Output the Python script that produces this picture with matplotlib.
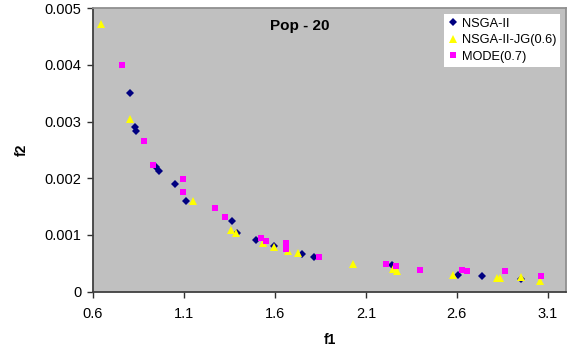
import matplotlib
matplotlib.use("Agg")
import matplotlib.pyplot as plt
from matplotlib.ticker import FixedLocator

plt.rcParams['font.family'] = ['Liberation Sans', 'DejaVu Sans']

# Data
nsga_x = [0.805, 0.829, 0.838, 0.944, 0.964, 1.052, 1.114, 1.363, 1.394, 1.498,
          1.595, 1.749, 1.815, 2.243, 2.605, 2.740, 2.955]
nsga_y = [0.00350, 0.00290, 0.00283, 0.00220, 0.00212, 0.00189, 0.00160, 0.00124,
          0.00103, 0.00091, 0.00080, 0.00066, 0.00061, 0.00047, 0.00030, 0.00028,
          0.00022]

jg_x = [0.644, 0.805, 1.149, 1.359, 1.387, 1.535, 1.593, 1.672, 1.729, 2.031,
        2.248, 2.270, 2.581, 2.821, 2.839, 2.955, 3.059]
jg_y = [0.00472, 0.00304, 0.00160, 0.00108, 0.00104, 0.00085, 0.00079, 0.00071,
        0.00069, 0.00048, 0.00040, 0.00037, 0.00030, 0.00025, 0.00025, 0.00026,
        0.00019]

mode_x = [0.759, 0.880, 0.928, 1.096, 1.096, 1.270, 1.326, 1.526, 1.551, 1.661,
          1.661, 1.844, 2.210, 2.267, 2.395, 2.627, 2.658, 2.865, 3.062]
mode_y = [0.00400, 0.00265, 0.00224, 0.00199, 0.00175, 0.00148, 0.00132, 0.00094,
          0.00089, 0.00085, 0.00076, 0.00062, 0.00049, 0.00045, 0.00038, 0.00038,
          0.00036, 0.00036, 0.00028]

labels = ["NSGA-II", "NSGA-II-JG(0.6)", "MODE(0.7)"]
x_ticks = [0.6, 1.1, 1.6, 2.1, 2.6, 3.1]
y_ticks = [0, 0.001, 0.002, 0.003, 0.004, 0.005]

fig = plt.figure(figsize=(5.68, 3.52), dpi=100)
ax = fig.add_axes([0.1637, 0.1713, 0.8328, 0.8057])
ax.set_facecolor('#C0C0C0')

ax.plot(nsga_x, nsga_y, linestyle='none', marker='D', markersize=4.2,
        color='#000080', markeredgewidth=0, label=labels[0], zorder=3)
ax.plot(jg_x, jg_y, linestyle='none', marker='^', markersize=6.0,
        color='#FFFF00', markeredgewidth=0, label=labels[1], zorder=4)
ax.plot(mode_x, mode_y, linestyle='none', marker='s', markersize=4.6,
        color='#FF00FF', markeredgewidth=0, label=labels[2], zorder=5)

ax.set_xlim(0.6, 3.2)
ax.set_ylim(0, 0.005)
ax.xaxis.set_major_locator(FixedLocator(x_ticks))
ax.yaxis.set_major_locator(FixedLocator(y_ticks))
ax.set_xticklabels([f"{v:g}" for v in x_ticks])
ax.set_yticklabels([f"{v:g}" for v in y_ticks])
ax.tick_params(axis='both', direction='out', length=4, width=1, colors='#303030',
               labelsize=10.5, labelcolor='black')
ax.tick_params(axis='x', pad=7)
ax.tick_params(axis='y', pad=4.5)

for s in ['left', 'bottom']:
    ax.spines[s].set_color('#404040')
    ax.spines[s].set_linewidth(1.3)
for s in ['top', 'right']:
    ax.spines[s].set_color('#909090')
    ax.spines[s].set_linewidth(1.3)

ax.set_xlabel('f1', fontsize=10, fontweight='bold', labelpad=9)
ax.set_ylabel('f2', fontsize=10, fontweight='bold', labelpad=11)

ax.text(0.438, 0.937, 'Pop - 20', transform=ax.transAxes, ha='center', va='center',
        fontsize=11, fontweight='bold')

leg = ax.legend(loc='upper right', bbox_to_anchor=(0.987, 0.979), frameon=True,
                fancybox=False, facecolor='white', edgecolor='white', framealpha=1,
                fontsize=9.2, handlelength=0.7, handletextpad=0.35, borderpad=0.3,
                labelspacing=0.35, borderaxespad=0)
leg.get_frame().set_linewidth(0)

fig.savefig('out.png', dpi=100, facecolor='white')
